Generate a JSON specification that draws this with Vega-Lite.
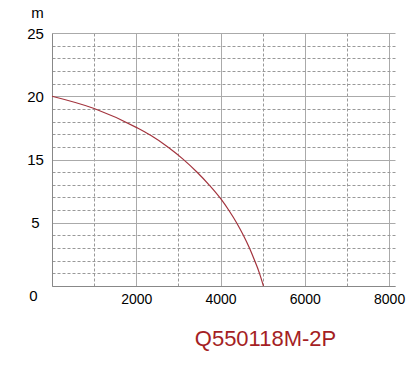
{
  "$schema": "https://vega.github.io/schema/vega-lite/v6.json",
  "width": 343,
  "height": 253,
  "autosize": "none",
  "padding": {"left": 52, "top": 33, "right": 22, "bottom": 81},
  "background": "white",
  "config": {"view": {"stroke": null}, "font": "Liberation Sans"},
  "data": {"values": [
    {"Q": 0, "H": 20.0},
    {"Q": 1000, "H": 19.03},
    {"Q": 2023, "H": 17.5},
    {"Q": 2331, "H": 16.93},
    {"Q": 2765, "H": 15.95},
    {"Q": 3102, "H": 15.05},
    {"Q": 3438, "H": 13.02},
    {"Q": 3737, "H": 10.92},
    {"Q": 4008, "H": 8.76},
    {"Q": 4204, "H": 6.89},
    {"Q": 4387, "H": 4.96},
    {"Q": 4544, "H": 3.99},
    {"Q": 4686, "H": 3.0},
    {"Q": 4804, "H": 2.05},
    {"Q": 4916, "H": 1.08},
    {"Q": 5018, "H": 0}
  ]},
  "mark": {"type": "line", "color": "#a3333d", "strokeWidth": 1.2, "interpolate": "monotone"},
  "encoding": {
    "x": {
      "field": "Q", "type": "quantitative",
      "scale": {"domain": [0, 8140], "nice": false, "zero": false},
      "axis": {
        "values": [0, 1000, 2000, 3000, 4000, 5000, 6000, 7000, 8000],
        "labelExpr": "(datum.value % 2000 == 0 && datum.value > 0) ? datum.label : ''",
        "format": "d",
        "labelOverlap": false,
        "labelFontSize": 14,
        "labelColor": "#000",
        "labelPadding": 6,
        "ticks": false,
        "domainColor": "#888",
        "grid": true,
        "gridColor": {"condition": {"test": "datum.value % 2000 == 0", "value": "#aaa"}, "value": "#999"},
        "gridDash": {"condition": {"test": "datum.value % 2000 == 0", "value": []}, "value": [3, 2]},
        "title": "Q550118M-2P",
        "titleColor": "#a51e24",
        "titleFontSize": 22,
        "titleFontWeight": "normal",
        "titleX": 213,
        "titleY": 59,
        "titleAlign": "center",
        "titleBaseline": "alphabetic"
      }
    },
    "y": {
      "field": "H", "type": "quantitative",
      "scale": {"domain": [0, 5, 15, 20, 25], "range": [253, 189.75, 126.5, 63.25, 0], "nice": false, "zero": false},
      "axis": {
        "values": [0, 1, 2, 3, 4, 5, 7, 9, 11, 13, 15, 16, 17, 18, 19, 20, 21, 22, 23, 24, 25],
        "labelExpr": "indexof([0, 5, 15, 20, 25], datum.value) >= 0 ? datum.label : ''",
        "labelOverlap": false,
        "labelFontSize": 15,
        "labelColor": "#000",
        "labelAlign": "center",
        "labelBaseline": "middle",
        "labelPadding": {"condition": {"test": "datum.value == 0", "value": 19}, "value": 17},
        "labelOffset": {"condition": {"test": "datum.value == 0", "value": 9}, "value": 0},
        "ticks": false,
        "domainColor": "#888",
        "grid": true,
        "gridColor": {"condition": {"test": "indexof([0, 5, 15, 20, 25], datum.value) >= 0", "value": "#aaa"}, "value": "#999"},
        "gridDash": {"condition": {"test": "indexof([0, 5, 15, 20, 25], datum.value) >= 0", "value": []}, "value": [3, 2]},
        "title": "m",
        "titleAngle": 0,
        "titleFontSize": 15,
        "titleFontWeight": "normal",
        "titleColor": "#000",
        "titleX": -15,
        "titleY": -16,
        "titleAlign": "center",
        "titleBaseline": "alphabetic"
      }
    }
  }
}
